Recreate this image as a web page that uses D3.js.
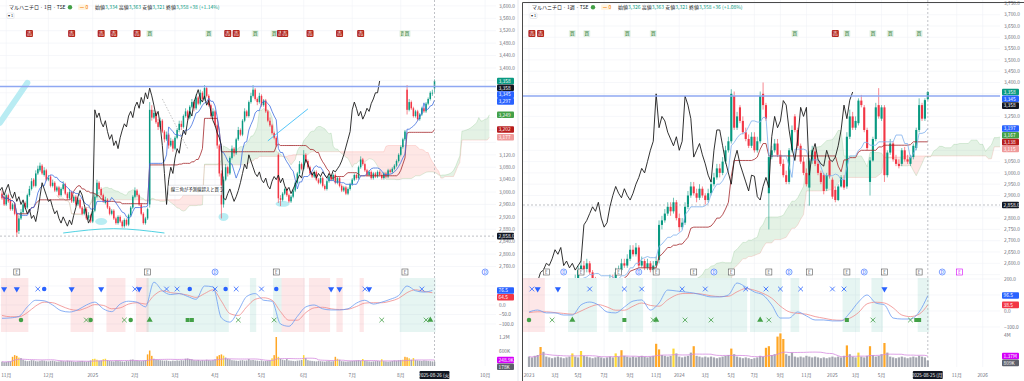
<!DOCTYPE html>
<html>
<head>
<meta charset="utf-8">
<script src="https://cdn.jsdelivr.net/npm/d3@7"></script>
<style>
  body { margin: 0; background: #fff; }
  svg { display: block; font-family: "Noto Sans CJK JP", "Noto Sans", sans-serif; }
</style>
</head>
<body>
<svg id="chart" width="1024" height="381"></svg>
<script>
// ---------- daily (left chart) ----------
const dailyOpen = [
  2995,2985,2960,2990,2975,2945,2960,2930,2875,2915, 2935,2965,2950,2990,3010,3040,3020,3060,3070,3085,
  3055,3070,3040,3050,3020,3030,3005,3015,2990,3010, 3025,2995,2980,3000,2970,2985,2960,2975,2950,2930,
  2945,2915,2925,2905,2940,2985,3030,3010,2990,2965, 2975,2950,2930,2940,2915,2900,2920,2905,2890,2910,
  2895,2925,2950,2985,3005,2990,2960,2930,2900,2915, 2960,3265,3240,3255,3225,3210,3230,3195,3170,3185,
  3150,3165,3140,3175,3200,3220,3210,3245,3260,3240, 3275,3290,3270,3305,3285,3320,3300,3335,3310,3280,
  3245,3260,3215,3150,3060,2960,3040,3080,3060,3110, 3140,3125,3170,3200,3185,3230,3260,3245,3290,3310,
  3330,3300,3290,3310,3280,3295,3260,3230,3215,3190, 3175,3120,2980,2975,2995,3010,2990,2970,2985,3005,
  3030,3060,3090,3075,3120,3100,3080,3060,3050,3065, 3040,3030,3045,3020,3010,3035,3050,3040,3055,3030,
  3045,3020,3005,3015,2995,3010,3025,3040,3055,3045, 3080,3105,3090,3070,3055,3065,3045,3060,3050,3065,
  3055,3045,3060,3050,3070,3065,3075,3085,3100,3120, 3145,3170,3330,3265,3290,3270,3245,3260,3235,3250,
  3270,3260,3285,3300,3320,3334
]
const dailyHigh = [
  3005,2990,2995,2995,2980,2965,2965,2935,2925,2945, 2970,2970,2995,3020,3045,3045,3070,3085,3095,3090,
  3080,3075,3055,3055,3040,3035,3020,3020,3015,3035, 3030,3000,3010,3005,2990,2990,2980,2980,2955,2950,
  2950,2935,2930,2945,2995,3040,3035,3015,2995,2985, 2980,2955,2945,2945,2920,2925,2925,2910,2915,2915,
  2930,2955,2990,3015,3010,2995,2965,2935,2920,2950, 3290,3280,3265,3260,3235,3240,3235,3200,3195,3190,
  3175,3170,3180,3205,3230,3230,3250,3270,3265,3280, 3300,3295,3315,3310,3330,3325,3345,3340,3315,3285,
  3270,3265,3220,3155,3070,3050,3090,3085,3115,3150, 3145,3175,3210,3205,3235,3270,3265,3295,3320,3345,
  3335,3305,3320,3315,3300,3300,3265,3240,3220,3195, 3180,3125,2990,3000,3015,3015,2995,2990,3010,3035,
  3065,3100,3095,3135,3125,3105,3085,3065,3070,3070, 3045,3050,3050,3025,3040,3055,3055,3060,3060,3050,
  3050,3025,3020,3020,3015,3030,3045,3060,3060,3085, 3115,3110,3095,3075,3070,3070,3065,3065,3070,3070,
  3060,3065,3065,3075,3075,3080,3090,3105,3125,3150, 3175,3200,3345,3300,3295,3275,3265,3265,3255,3275,
  3275,3290,3305,3325,3330,3363
]
const dailyLow = [
  2975,2955,2955,2965,2940,2940,2925,2855,2865,2910, 2930,2945,2945,2985,3005,3015,3015,3055,3065,3055,
  3050,3035,3035,3015,3015,3000,3000,2985,2985,3005, 2990,2975,2975,2965,2965,2955,2955,2945,2925,2925,
  2910,2910,2900,2900,2935,2980,3005,2985,2965,2960, 2945,2925,2925,2910,2895,2895,2900,2885,2885,2890,
  2890,2920,2945,2980,2985,2955,2925,2895,2895,2910, 2950,3230,3235,3220,3200,3205,3190,3160,3165,3140,
  3145,3130,3135,3170,3195,3200,3205,3240,3230,3235, 3270,3260,3265,3280,3280,3295,3295,3305,3275,3240,
  3240,3210,3140,3050,2915,2950,3035,3050,3055,3105, 3115,3120,3165,3180,3180,3225,3240,3240,3285,3305,
  3295,3280,3285,3275,3275,3255,3225,3210,3185,3170, 3145,2965,2955,2970,2990,2985,2965,2965,2980,3000,
  3025,3055,3070,3070,3095,3075,3055,3045,3045,3035, 3025,3025,3015,3005,3005,3030,3035,3035,3025,3025,
  3015,3000,3000,2990,2990,3005,3020,3035,3040,3040, 3075,3085,3065,3050,3050,3040,3040,3045,3045,3050,
  3040,3040,3045,3045,3060,3060,3070,3080,3095,3115, 3140,3165,3250,3260,3265,3240,3240,3230,3230,3245,
  3255,3255,3280,3295,3310,3321
]
const dailyClose = [
  2980,2960,2990,2970,2945,2960,2930,2870,2915,2935, 2960,2950,2990,3010,3035,3020,3060,3075,3085,3060,
  3070,3040,3045,3020,3030,3005,3015,2990,3010,3025, 2995,2980,3000,2970,2985,2960,2975,2950,2930,2945,
  2915,2925,2905,2940,2985,3030,3010,2990,2970,2975, 2950,2930,2940,2915,2900,2920,2905,2890,2910,2895,
  2925,2950,2985,3005,2990,2960,2930,2900,2915,2945, 3265,3240,3255,3225,3210,3230,3195,3170,3185,3150,
  3165,3140,3175,3200,3220,3210,3245,3260,3240,3275, 3290,3270,3305,3285,3320,3300,3335,3310,3280,3245,
  3260,3215,3150,3060,2960,3040,3080,3060,3110,3140, 3125,3170,3200,3185,3230,3260,3245,3290,3310,3330,
  3300,3290,3310,3280,3295,3260,3230,3215,3190,3175, 3150,2980,2975,2995,3010,2990,2970,2985,3005,3030,
  3060,3090,3075,3120,3100,3080,3060,3050,3065,3040, 3030,3045,3020,3010,3035,3050,3040,3055,3030,3045,
  3020,3005,3015,2995,3010,3025,3040,3055,3045,3080, 3105,3090,3070,3055,3065,3045,3060,3050,3065,3055,
  3045,3060,3050,3070,3065,3075,3085,3100,3120,3145, 3170,3195,3265,3290,3270,3245,3260,3235,3250,3270,
  3260,3285,3300,3320,3320,3358
]
const dailyVolume = [ // thousands of shares
  180,160,170,190,200,380,450,420,350,330, 260,220,200,210,240,230,200,190,210,230,
  220,200,190,210,220,200,180,190,210,200, 190,220,210,200,180,170,190,200,210,190,
  180,200,230,290,300,260,220,230,280,300, 240,210,200,190,220,210,200,190,180,210,
  200,260,270,220,230,210,200,220,240,480, 640,420,300,260,250,240,230,220,230,210,
  200,220,210,230,220,240,230,300,310,290, 280,240,230,250,220,240,230,260,240,230,
  250,280,400,450,480,430,350,300,280,240, 230,220,210,230,240,220,230,290,240,250,
  230,220,210,230,200,210,220,230,320,450, 1200,380,300,260,240,290,230,220,210,200,
  220,230,250,450,330,240,220,210,200,190, 210,200,190,180,200,210,190,200,380,300,
  260,200,190,180,190,200,210,220,230,240, 220,290,210,200,190,180,190,200,210,200,
  280,200,190,180,190,210,230,220,240,250, 260,380,360,320,260,330,240,230,220,210,
  230,220,210,200,190,178
]
const dailyTickIdx = [2, 22, 43, 63, 82, 101, 123, 143, 166, 189, 229]
const dailyTickLabels = ['11月', '12月', '2025', '2月', '3月', '4月', '5月', '6月', '7月', '8月', '10月']
const dailyPriceTicks = [2760, 2800, 2840, 2880, 2920, 2960, 3000, 3040, 3080, 3120, 3160, 3200, 3240,
  3280, 3320, 3360, 3400, 3440, 3480, 3520, 3560, 3600]
const dailyOscStep = 4
const dailyOscMain = [-70,-68,-60,-10,25,22,0,-30,-37,-25, 0,15,-20,-35,5,20,15,-10,120,75,
  55,60,45,30,100,95,-68,-90,-30,45, 60,25,20,-100,-112,-60,-10,0,-20,-26,
  -26,-20,10,25,5,15,30,50,100,75, 68,76.5]
const dailyOscSignal = [-55,-62,-62,-40,-5,15,12,-5,-22,-28, -15,2,-2,-20,-15,5,12,5,50,75,
  65,60,52,40,60,80,20,-45,-55,-10, 30,38,25,-35,-80,-80,-40,-15,-12,-20,
  -24,-22,-8,10,12,12,20,35,65,80, 72,64.5]
const dailyBandFrom = [0, 33, 50, 64, 69, 118, 129, 133, 146, 159, 170, 189]
const dailyBandTo = [12, 43, 58, 69, 107, 120, 132, 143, 155, 161, 171, 205]
const dailyBandKind = ['r', 'r', 'r', 'r', 'g', 'g', 'g', 'r', 'r', 'r', 'r', 'g']
const dailyTopIdx = [1, 7, 17, 20, 33, 47, 63, 65, 78, 83, 89, 101, 106, 111, 123, 130, 156, 160, 172, 174, 199]
const dailyTopSym = ['v', 'v', 'x', 'o', 'v', 'v', 'x', 'v', 'x', 'x', 'o', 'x', 'o', 'x', 'x', 'o', 'v', 'v', 'x', 'v', 'x']
const dailyBotIdx = [9, 40, 42, 58, 61, 70, 88, 90, 112, 129, 180, 201, 203]
const dailyBotSym = ['o', 'x', 'o', 'x', 'o', '^', 's', 's', 'x', 'x', 'x', 'x', '^']
const dailyEventIdx = [7, 69, 101, 130, 191, 229]
const dailyEventKind = ['E', 'E', 'D', 'E', 'E', 'D']
const dailySignalIdx = [13, 33, 47, 53, 64, 70, 98, 107, 111, 120, 129, 132, 134, 146, 160, 170, 190, 192]
const dailySignalKind = ['s', 's', 's', 's', 's', 'b', 'b', 's', 's', 'b', 'b', 's', 's', 's', 's', 's', 'b', 'b']

// ---------- weekly (right chart) ----------
const weeklyOpen = [
  2380,2400,2420,2410,2440,2460,2450,2430,2470,2480, 2460,2490,2470,2500,2490,2510,2500,2530,2570,2590,
  2575,2600,2560,2520,2500,2510,2480,2500,2490,2530, 2520,2560,2570,2600,2590,2620,2660,2640,2670,2590,
  2610,2580,2600,2570,2590,2615,2770,2790,2820,2850, 2830,2870,2800,2760,2780,2850,2900,2940,2910,2890,
  2930,2900,2880,2910,2950,2980,3020,3000,3050,3100, 3140,3340,3200,3290,3230,3180,3150,3120,3160,3100,
  3140,3350,3300,2910,3070,3100,3130,3080,3040,2990, 2960,3100,3250,3190,3120,3050,3000,2935,3055,3095,
  3040,3000,2990,2930,3055,2970,2925,2880,2940,2970, 2940,3160,3250,3200,3220,3320,3290,3190,2960,3055,
  3150,3300,3240,3290,2990,3090,3130,3060,3040,3040, 3100,3060,3040,3070,3110,3190,3300,3240,3326
]
const weeklyHigh = [
  2420,2440,2440,2460,2480,2480,2470,2490,2500,2490, 2510,2500,2520,2520,2530,2530,2550,2590,2610,2610,
  2620,2610,2570,2540,2530,2530,2520,2520,2550,2550, 2580,2590,2620,2620,2640,2680,2680,2690,2680,2630,
  2620,2620,2610,2610,2630,2790,2810,2840,2870,2870, 2890,2880,2820,2800,2870,2920,2960,2960,2930,2950,
  2940,2910,2930,2970,3000,3040,3040,3070,3120,3160, 3370,3360,3270,3300,3250,3200,3170,3180,3180,3160,
  3360,3400,3310,3090,3120,3150,3150,3100,3060,3010, 3110,3210,3260,3200,3130,3070,3020,3065,3120,3110,
  3060,3010,3000,3000,3070,2980,2940,2950,2990,2990, 3180,3280,3270,3250,3330,3345,3300,3200,3070,3160,
  3310,3375,3300,3300,3100,3150,3140,3080,3060,3110, 3115,3080,3080,3130,3200,3330,3310,3330,3363
]
const weeklyLow = [
  2370,2380,2390,2400,2430,2430,2420,2420,2460,2450, 2450,2460,2460,2480,2480,2490,2490,2520,2560,2560,
  2560,2550,2510,2490,2490,2470,2470,2480,2480,2510, 2510,2550,2560,2580,2580,2610,2630,2630,2580,2580,
  2570,2570,2560,2560,2580,2600,2750,2780,2810,2810, 2820,2790,2740,2750,2770,2840,2890,2900,2870,2880,
  2890,2860,2870,2900,2940,2970,2980,2990,3040,3090, 3130,3190,3190,3220,3170,3140,3110,3110,3090,3090,
  3130,3280,3230,2750,3060,3090,3070,3030,2980,2950, 2950,3090,3180,3110,3040,2990,2940,2855,3040,3030,
  2990,2950,2905,2920,2975,2885,2870,2875,2935,2925, 2930,3150,3190,3190,3210,3290,3180,3100,2900,3050,
  3140,3240,3230,2960,2980,3080,3050,3030,3020,3030, 3050,3040,3030,3060,3100,3180,3230,3230,3321
]
const weeklyClose = [
  2400,2420,2410,2440,2460,2450,2430,2470,2480,2460, 2490,2470,2500,2490,2510,2500,2530,2570,2590,2575,
  2600,2560,2520,2500,2510,2480,2500,2490,2530,2520, 2560,2570,2600,2590,2620,2660,2640,2670,2590,2610,
  2580,2600,2570,2590,2610,2770,2790,2820,2850,2830, 2870,2800,2760,2780,2850,2900,2940,2910,2890,2930,
  2900,2880,2910,2950,2980,3020,3000,3050,3100,3140, 3350,3200,3250,3230,3180,3150,3120,3160,3100,3140,
  3340,3300,3240,3070,3100,3130,3080,3040,2990,2960, 3100,3190,3190,3120,3050,3000,2950,3055,3100,3040,
  3000,2960,2920,2990,2985,2895,2880,2940,2980,2935, 3160,3250,3200,3230,3320,3300,3190,3110,3055,3150,
  3290,3250,3290,2990,3090,3130,3060,3040,3030,3100, 3060,3050,3070,3120,3190,3300,3240,3322,3358
]
const weeklyVolume = [ // thousands of shares
  1300,1200,1400,1500,2500,1900,1300,1200,1100,1200, 1300,1200,1100,1200,1300,1700,1300,1200,2000,1400,
  1300,1200,1100,1200,1300,1200,1100,1200,1300,1200, 1700,1300,2100,1400,1300,1200,1300,1200,1300,1400,
  1300,1200,1300,1400,2900,2200,1500,1400,1300,1400, 2300,1700,1300,1200,1300,1400,1800,2600,1400,1300,
  1200,1300,1200,1300,1200,1100,1200,1300,1400,1500, 2300,1600,1300,1200,1100,1200,1100,1000,1100,1200,
  1400,1300,2400,2600,1500,1600,3800,4200,3500,1600, 1400,1800,1300,1200,1300,1200,1400,1300,1200,1300,
  1200,1100,1200,1100,1200,1300,1200,1300,1200,1400, 2700,1600,1300,1200,1800,1300,1200,1400,2600,1500,
  1300,1400,1600,3000,1800,1300,1200,1100,1200,1300, 1200,1100,1200,1300,1200,1400,1300,1200,809
]
const weeklyTickIdx = [0, 9, 17, 26, 35, 44, 52, 61, 70, 78, 87, 96, 105, 113, 122, 131, 148, 157]
const weeklyTickLabels = ['2023', '3月', '5月', '7月', '9月', '11月', '2024', '3月', '5月', '7月', '9月', '11月',
  '2025', '3月', '5月', '7月', '11月', '2026']
const weeklyPriceTicks = [2550, 2600, 2650, 2700, 2750, 2800, 2850, 2900, 2950, 3000, 3050, 3100, 3150,
  3200, 3250, 3300, 3350, 3400, 3450, 3500, 3550, 3600, 3650, 3700, 3750]
const weeklyOscStep = 3
const weeklyOscMain = [-6,6,-12,-12,-25,-25,38,56,38,-6, -12,25,62,69,6,50,131,125,119,112,
  100,88,88,100,175,150,119,100,38,-44, -44,-6,-31,-56,-56,-62,-62,-12,56,100,
  50,38,-44,-50,-50,-6,96.5]
const weeklyOscSignal = [-10,-5,-5,-10,-15,-20,0,25,40,25, 5,5,30,50,35,30,70,100,110,110,
  105,95,90,92,120,140,130,110,80,30, -5,-15,-20,-35,-45,-55,-58,-45,-10,45,
  55,50,20,-25,-35,-20,38.5]
const weeklyBandFrom = [-2, 14, 28, 34, 43, 77, 91, 109, 119, 135]
const weeklyBandTo = [5, 23, 32, 39, 75, 87, 93, 114, 122, 138]
const weeklyBandKind = ['r', 'g', 'g', 'g', 'g', 'g', 'g', 'g', 'g', 'g']
const weeklyTopIdx = [1, 3, 10, 21, 33, 39, 53, 61, 75, 82, 87, 94, 105, 109, 123]
const weeklyTopSym = ['x', 'v', 'v', 'x', 'x', 'x', 'x', 'x', 'x', 'x', 'x', 'x', 'x', 'x', 'v']
const weeklyBotIdx = [0, 8, 15, 33, 43, 44, 54, 63, 80, 83, 110, 119, 132, 134, 135]
const weeklyBotSym = ['o', 'x', '^', 's', 'x', '^', 'x', 'x', '^', 'x', 's', 'x', 'x', 's', 's']
const weeklyEventIdx = [6, 12, 18, 31, 38, 44, 57, 64, 70, 83, 90, 97, 110, 116, 123, 135, 143, 149]
const weeklyEventKind = ['E', 'D', 'E', 'E', 'D', 'E', 'E', 'D', 'E', 'E', 'D', 'E', 'E', 'D', 'E', 'E', 'D', 'P']
const weeklySignalIdx = [1, 4, 15, 20, 34, 43, 92, 106, 110, 119, 125, 135]
const weeklySignalKind = ['s', 's', 'b', 'b', 'b', 'b', 'b', 's', 'b', 'b', 'b', 'b']

const hLinePrice = 3340
const crossPrice = 2858

const UP = '#089981', DOWN = '#f23645'
const svg = d3.select('#chart')
const defs = svg.append('defs')
const fmtP = d3.format(',.1f')

function donchianMid(high, low, len) {
  return high.map((h, i) => {
    const s = Math.max(0, i - len + 1)
    return (d3.max(high.slice(s, i + 1)) + d3.min(low.slice(s, i + 1))) / 2
  })
}
function sma(arr, len) {
  return arr.map((v, i) => d3.mean(arr.slice(Math.max(0, i - len + 1), i + 1)))
}
// split the cloud into pieces of one colour, cutting where span A crosses span B
function cloudSegments(idx, a, b) {
  const segs = []
  let cur = null
  for (let k = 0; k < idx.length; k++) {
    const up = a[k] >= b[k]
    if (!cur) { cur = { up, pts: [] }; segs.push(cur) }
    else if (cur.up !== up) {
      const d0 = a[k - 1] - b[k - 1], d1 = a[k] - b[k]
      const t = d0 / (d0 - d1)
      const p = { i: idx[k - 1] + t * (idx[k] - idx[k - 1]), a: a[k - 1] + t * (a[k] - a[k - 1]) }
      p.b = p.a
      cur.pts.push(p)
      cur = { up, pts: [p] }
      segs.push(cur)
    }
    cur.pts.push({ i: idx[k], a: a[k], b: b[k] })
  }
  return segs
}
function fmtVol(v) { // v in thousands
  return v >= 1000 ? d3.format('.3~r')(v / 1000) + 'M' : d3.format('.4~r')(v) + 'K'
}
function tag(g, x, y, text, bg, fg) {
  const t = g.append('g')
  t.append('rect').attr('x', x).attr('y', y - 3.3).attr('width', 17).attr('height', 6.6).attr('rx', 1).attr('fill', bg)
  t.append('text').attr('x', x + 1.6).attr('y', y + 1.8).attr('font-size', 4.8).attr('fill', fg || '#fff').text(text)
}
function stackTags(list, minGap) {
  list.sort((a, b) => a.y - b.y)
  for (let k = 1; k < list.length; k++) if (list[k].y < list[k - 1].y + minGap) list[k].y = list[k - 1].y + minGap
  return list
}
// keep only the axis labels that no coloured tag hides
function freeOf(tags, yy) { return tags.every(t => Math.abs(t.y - yy) > 5.5) }

function drawPanel(c) {
  const n = c.close.length
  const x = d3.scaleLinear().domain([0, n - 1]).range([c.firstX, c.lastX])
  const y = d3.scaleLinear().domain(c.priceDomain).range([c.priceBottom, 0])
  const yOsc = d3.scaleLinear().domain(c.oscDomain).range(c.oscRange)
  const yVol = d3.scaleLinear().domain([0, c.volMax]).range([c.volBase, c.volTop])
  const g = svg.append('g')

  defs.append('clipPath').attr('id', c.id + 'P').append('rect')
    .attr('x', c.left).attr('y', 0).attr('width', c.right - c.left).attr('height', c.priceBottom)
  defs.append('clipPath').attr('id', c.id + 'A').append('rect')
    .attr('x', c.left).attr('y', 0).attr('width', c.right - c.left).attr('height', 381)

  // grid
  const grid = g.append('g').attr('stroke', '#f0f2f6').attr('stroke-width', 0.6)
  grid.selectAll('.vg').data(c.tickIdx).join('line').attr('class', 'vg')
    .attr('x1', d => x(d)).attr('x2', d => x(d)).attr('y1', 0).attr('y2', c.volBase)
  grid.selectAll('.hg').data(c.priceTicks).join('line').attr('class', 'hg')
    .attr('x1', c.left).attr('x2', c.right).attr('y1', d => y(d)).attr('y2', d => y(d))
  grid.selectAll('.og').data(c.oscTicks).join('line').attr('class', 'og')
    .attr('x1', c.left).attr('x2', c.right).attr('y1', d => yOsc(d)).attr('y2', d => yOsc(d))

  // ---- price pane ----
  const pg = g.append('g').attr('clip-path', `url(#${c.id}P)`)
  const tenkan = donchianMid(c.high, c.low, 9)
  const kijun = donchianMid(c.high, c.low, 26)
  const spanB = donchianMid(c.high, c.low, 52)
  const spanA = tenkan.map((t, i) => (t + kijun[i]) / 2)
  const cloudIdx = d3.range(n).map(i => i + 26)
  const segs = cloudSegments(cloudIdx, spanA, spanB)
  const area = d3.area().x(d => x(d.i)).y0(d => y(d.a)).y1(d => y(d.b))
  pg.selectAll('.cloud').data(segs).join('path').attr('class', 'cloud')
    .attr('d', d => area(d.pts)).attr('fill', d => d.up ? 'rgba(67,160,71,0.14)' : 'rgba(244,67,54,0.13)')
  const line = d3.line().x(d => x(d[0])).y(d => y(d[1]))
  pg.append('path').attr('d', line(spanA.map((v, i) => [i + 26, v])))
    .attr('fill', 'none').attr('stroke', 'rgba(67,160,71,0.35)').attr('stroke-width', 0.5)
  pg.append('path').attr('d', line(spanB.map((v, i) => [i + 26, v])))
    .attr('fill', 'none').attr('stroke', 'rgba(244,67,54,0.3)').attr('stroke-width', 0.5)

  if (c.extraBehind) c.extraBehind(pg, x, y)

  const bars = d3.range(n).map(i => ({ i, o: c.open[i], h: c.high[i], l: c.low[i], c: c.close[i] }))
  const cg = pg.append('g')
  cg.selectAll('line').data(bars).join('line')
    .attr('x1', d => x(d.i)).attr('x2', d => x(d.i)).attr('y1', d => y(d.h)).attr('y2', d => y(d.l))
    .attr('stroke', d => d.c >= d.o ? UP : DOWN).attr('stroke-width', 0.6)
  cg.selectAll('rect').data(bars).join('rect')
    .attr('x', d => x(d.i) - c.bodyW / 2).attr('width', c.bodyW)
    .attr('y', d => y(Math.max(d.o, d.c))).attr('height', d => Math.max(0.7, Math.abs(y(d.o) - y(d.c))))
    .attr('fill', d => d.c >= d.o ? UP : DOWN)

  pg.append('path').attr('d', line(kijun.map((v, i) => [i, v])))
    .attr('fill', 'none').attr('stroke', '#a3262a').attr('stroke-width', 0.8)
  pg.append('path').attr('d', line(tenkan.map((v, i) => [i, v])))
    .attr('fill', 'none').attr('stroke', c.tenkanColor).attr('stroke-width', 0.8)
  pg.append('path').attr('d', line(c.close.map((v, i) => [i - 26, v])))
    .attr('fill', 'none').attr('stroke', '#1b1b1b').attr('stroke-width', 0.9)

  // horizontal drawn line
  pg.append('line').attr('x1', c.left).attr('x2', c.right).attr('y1', y(hLinePrice)).attr('y2', y(hLinePrice))
    .attr('stroke', '#8fa8f2').attr('stroke-width', 1.4)

  if (c.extraFront) c.extraFront(pg, x, y)

  // signals row
  const sg = g.append('g').attr('clip-path', `url(#${c.id}A)`)
  c.signalIdx.forEach((si, k) => {
    const cx = x(si), kind = c.signalKind[k]
    if (kind === 's') {
      sg.append('rect').attr('x', cx - 3.5).attr('y', 30).attr('width', 7).attr('height', 7).attr('rx', 1).attr('fill', '#b3261e')
      sg.append('text').attr('x', cx).attr('y', 35.3).attr('text-anchor', 'middle').attr('font-size', 5).attr('fill', '#fff').text('売')
    } else {
      sg.append('rect').attr('x', cx - 3.5).attr('y', 30).attr('width', 7).attr('height', 7).attr('rx', 1).attr('fill', '#e6f2e8')
      sg.append('text').attr('x', cx).attr('y', 35.3).attr('text-anchor', 'middle').attr('font-size', 5).attr('fill', '#2e7d32').text('買')
    }
  })

  // events (earnings / dividends) at the foot of the price pane
  c.eventIdx.forEach((ei, k) => {
    const cx = x(ei), kind = c.eventKind[k], ey = c.priceBottom - 6
    if (kind === 'D') {
      sg.append('circle').attr('cx', cx).attr('cy', ey).attr('r', 3).attr('fill', '#fff').attr('stroke', '#2962ff').attr('stroke-width', 0.6)
      sg.append('text').attr('x', cx).attr('y', ey + 1.7).attr('text-anchor', 'middle').attr('font-size', 4.3).attr('fill', '#2962ff').text('D')
    } else {
      const col = kind === 'P' ? '#d500f9' : '#555'
      sg.append('rect').attr('x', cx - 3).attr('y', ey - 3).attr('width', 6).attr('height', 6).attr('fill', '#fff').attr('stroke', col).attr('stroke-width', 0.6)
      sg.append('text').attr('x', cx).attr('y', ey + 1.7).attr('text-anchor', 'middle').attr('font-size', 4.3).attr('fill', col).text('E')
    }
  })

  // ---- oscillator pane ----
  const og = g.append('g').attr('clip-path', `url(#${c.id}A)`)
  c.bandFrom.forEach((b0, k) => {
    og.append('rect').attr('x', x(b0 - 0.5)).attr('width', x(c.bandTo[k] + 0.5) - x(b0 - 0.5))
      .attr('y', c.oscTop).attr('height', c.oscBottom - c.oscTop)
      .attr('fill', c.bandKind[k] === 'r' ? 'rgba(242,54,69,0.12)' : 'rgba(8,153,129,0.10)')
  })
  const oline = d3.line().x(d => x(d[0])).y(d => yOsc(d[1])).curve(d3.curveMonotoneX)
  og.append('path').attr('d', oline(c.oscSignal.map((v, k) => [k * c.oscStep, v])))
    .attr('fill', 'none').attr('stroke', '#f08a8a').attr('stroke-width', 0.8)
  og.append('path').attr('d', oline(c.oscMain.map((v, k) => [k * c.oscStep, v])))
    .attr('fill', 'none').attr('stroke', '#6b9cf2').attr('stroke-width', 0.8)
  function marker(sel, cx, cy, sym, col) {
    if (sym === 'x') {
      sel.append('path').attr('d', d3.symbol(d3.symbolTimes, 16)()).attr('transform', `translate(${cx},${cy})`)
        .attr('fill', 'none').attr('stroke', col).attr('stroke-width', 0.8)
      return
    }
    const type = sym === 'o' ? d3.symbolCircle : sym === 's' ? d3.symbolSquare : d3.symbolTriangle
    sel.append('path').attr('d', d3.symbol(type, 16)())
      .attr('transform', `translate(${cx},${cy})` + (sym === 'v' ? ' rotate(180)' : ''))
      .attr('fill', col)
  }
  c.topIdx.forEach((ti, k) => marker(og, x(ti), c.oscTop + 11, c.topSym[k], '#2962ff'))
  c.botIdx.forEach((bi, k) => marker(og, x(bi), c.oscBottom - 12, c.botSym[k], '#43a047'))

  // ---- volume pane ----
  const ma = sma(c.volume, 20)
  const vg = g.append('g').attr('clip-path', `url(#${c.id}A)`)
  vg.selectAll('rect').data(c.volume).join('rect')
    .attr('x', (d, i) => x(i) - c.volW / 2).attr('width', c.volW)
    .attr('y', d => yVol(d)).attr('height', d => c.volBase - yVol(d))
    .attr('fill', (d, i) => d > ma[i] * 1.5 ? '#ffa726' : d > ma[i] * 1.2 ? '#fdd835' : '#a4a7b0')
  vg.append('path').attr('d', d3.line().x((d, i) => x(i)).y(d => yVol(d))(ma))
    .attr('fill', 'none').attr('stroke', '#d58be0').attr('stroke-width', 0.8)

  // ---- crosshair ----
  const lastX = x(n - 1)
  g.append('line').attr('x1', lastX).attr('x2', lastX).attr('y1', 0).attr('y2', c.volBase)
    .attr('stroke', '#9598a1').attr('stroke-width', 0.6).attr('stroke-dasharray', '2,2')
  g.append('line').attr('x1', c.left).attr('x2', c.right).attr('y1', y(crossPrice)).attr('y2', y(crossPrice))
    .attr('stroke', '#9598a1').attr('stroke-width', 0.6).attr('stroke-dasharray', '2,2')

  // ---- tags on the price scale ----
  const last = c.close[n - 1]
  const priceTags = stackTags([
    { y: y(last), t: d3.format(',')(last), bg: UP },
    { y: y(last) + 5, t: d3.format(',')(last), bg: '#131722' },
    { y: y(hLinePrice), t: d3.format(',')(hLinePrice + 5), bg: '#2962ff' },
    { y: y(tenkan[n - 1]), t: d3.format(',.0f')(tenkan[n - 1]), bg: '#2962ff' },
    { y: y(spanA[n - 1]), t: d3.format(',.0f')(spanA[n - 1]), bg: '#43a047' },
    { y: y(kijun[n - 1]), t: d3.format(',.0f')(kijun[n - 1]), bg: '#b71c1c' },
    { y: y(spanB[n - 1]), t: d3.format(',.0f')(spanB[n - 1]), bg: '#ef9a9a' }
  ], 6.8)
  priceTags.push({ y: y(crossPrice), t: fmtP(crossPrice), bg: '#131722' })
  const oscTags = stackTags([
    { y: yOsc(c.oscMain[c.oscMain.length - 1]), t: fmtP(c.oscMain[c.oscMain.length - 1]), bg: '#2962ff' },
    { y: yOsc(c.oscSignal[c.oscSignal.length - 1]), t: fmtP(c.oscSignal[c.oscSignal.length - 1]), bg: '#f23645' }
  ], 6.8)
  const volTags = stackTags([
    { y: yVol(ma[n - 1]), t: fmtVol(ma[n - 1]), bg: '#d500f9' },
    { y: yVol(c.volume[n - 1]), t: fmtVol(c.volume[n - 1]), bg: '#5d606b' }
  ], 6.8)
  const allTags = priceTags.concat(oscTags, volTags)

  // ---- right axis labels (only those inside their own pane) ----
  const ax = g.append('g').attr('font-size', 4.8).attr('fill', '#6a6d78')
  ax.selectAll('.pt').data(c.priceTicks.filter(d => y(d) < c.priceBottom - 4 && freeOf(allTags, y(d)))).join('text').attr('class', 'pt')
    .attr('x', c.axisX).attr('y', d => y(d) + 1.7).text(d => fmtP(d))
  ax.selectAll('.ot').data(c.oscTicks.filter(d => freeOf(allTags, yOsc(d)))).join('text').attr('class', 'ot')
    .attr('x', c.axisX).attr('y', d => yOsc(d) + 1.7).text(d => fmtP(d))
  ax.selectAll('.vt').data(c.volTicks.filter(d => freeOf(allTags, yVol(d)))).join('text').attr('class', 'vt')
    .attr('x', c.axisX).attr('y', d => yVol(d) + 1.7).text(d => d === 0 ? '0' : fmtVol(d))
  allTags.forEach(p => tag(g, c.axisX - 2, p.y, p.t, p.bg))

  // ---- time axis ----
  const tx = g.append('g').attr('font-size', 4.8).attr('fill', '#6a6d78').attr('text-anchor', 'middle')
  tx.selectAll('text').data(c.tickIdx.filter(d => Math.abs(x(d) - lastX) > 24)).join('text')
    .attr('x', d => x(d)).attr('y', 377).text(d => c.tickLabels[c.tickIdx.indexOf(d)])
  g.append('rect').attr('x', lastX - 15).attr('y', 371).attr('width', 30).attr('height', 8).attr('rx', 1).attr('fill', '#131722')
  g.append('text').attr('x', lastX).attr('y', 376.8).attr('text-anchor', 'middle').attr('font-size', 4.6)
    .attr('fill', '#fff').text(c.dateLabel)

  // ---- header ----
  const hd = g.append('g').attr('font-size', 5)
  hd.append('text').attr('x', c.left + 9).attr('y', 9).attr('fill', '#131722').text(c.title)
  hd.append('circle').attr('cx', c.left + 70).attr('cy', 7.3).attr('r', 2.2).attr('fill', '#43a047')
  hd.append('rect').attr('x', c.left + 78).attr('y', 4.5).attr('width', 10).attr('height', 5.5).attr('rx', 1).attr('fill', '#fff3e0')
  hd.append('text').attr('x', c.left + 79.5).attr('y', 9).attr('fill', '#f57c00').text('ー 0')
  const o = hd.append('text').attr('x', c.left + 95).attr('y', 9)
  const parts = [['始値', c.open[n - 1]], ['高値', c.high[n - 1]], ['安値', c.low[n - 1]], ['終値', last]]
  parts.forEach(([k, v]) => {
    o.append('tspan').attr('fill', '#131722').text(k)
    o.append('tspan').attr('fill', UP).text(d3.format(',')(v) + ' ')
  })
  const chg = last - c.prevClose
  o.append('tspan').attr('fill', UP).text(`+${chg} (+${d3.format('.2f')(chg / c.prevClose * 100)}%)`)
  hd.append('rect').attr('x', c.left + 7).attr('y', 13).attr('width', 7).attr('height', 5.5).attr('rx', 1)
    .attr('fill', '#fff').attr('stroke', '#d1d4dc').attr('stroke-width', 0.5)
  hd.append('text').attr('x', c.left + 8.2).attr('y', 17.3).attr('font-size', 3.8).attr('fill', '#131722').text('▾ 1')

  return { x, y }
}

// left chart: drawings made by hand on the daily chart
drawPanel({
  id: 'L', left: 0, right: 496, axisX: 499, firstX: 2, lastX: 434.5, priceBottom: 278,
  priceDomain: [2723, 3619], priceTicks: dailyPriceTicks,
  oscDomain: [-100, 100], oscRange: [324, 286], oscTicks: [100, 50, 0, -50, -100], oscTop: 278, oscBottom: 332,
  volMax: 1200, volBase: 366, volTop: 337, volTicks: [600, 1200],
  open: dailyOpen, high: dailyHigh, low: dailyLow, close: dailyClose, volume: dailyVolume,
  prevClose: 3320, bodyW: 1.5, volW: 1.5, tenkanColor: '#3f6fe0',
  tickIdx: dailyTickIdx, tickLabels: dailyTickLabels,
  oscMain: dailyOscMain, oscSignal: dailyOscSignal, oscStep: dailyOscStep,
  bandFrom: dailyBandFrom, bandTo: dailyBandTo, bandKind: dailyBandKind,
  topIdx: dailyTopIdx, topSym: dailyTopSym, botIdx: dailyBotIdx, botSym: dailyBotSym,
  eventIdx: dailyEventIdx, eventKind: dailyEventKind,
  signalIdx: dailySignalIdx, signalKind: dailySignalKind,
  title: 'マルハニチロ · 1日 · TSE', dateLabel: '2025-08-26 (火)',
  extraBehind: (pg, x, y) => {
    pg.append('line').attr('x1', x(-1)).attr('y1', y(3223)).attr('x2', x(12)).attr('y2', y(3352))
      .attr('stroke', '#b9ecf3').attr('stroke-width', 6).attr('stroke-linecap', 'round')
    const ell = [[47, 2905, 6, 3.5], [105, 2920, 5, 4], [133, 2962, 7, 3]]
    ell.forEach(e => pg.append('ellipse').attr('cx', x(e[0])).attr('cy', y(e[1])).attr('rx', e[2]).attr('ry', e[3])
      .attr('fill', 'rgba(128,222,234,0.55)'))
  },
  extraFront: (pg, x, y) => {
    pg.append('path').attr('d', d3.line().x(d => x(d[0])).y(d => y(d[1])).curve(d3.curveNatural)([[29, 2868], [53, 2882], [77, 2868]]))
      .attr('fill', 'none').attr('stroke', '#26c6da').attr('stroke-width', 0.8)
    pg.append('line').attr('x1', x(126)).attr('y1', y(3165)).attr('x2', x(145)).attr('y2', y(3268))
      .attr('stroke', '#29b6f6').attr('stroke-width', 0.8)
    pg.append('line').attr('x1', x(76)).attr('y1', y(3300)).attr('x2', x(88)).attr('y2', y(3140))
      .attr('stroke', '#9e9e9e').attr('stroke-width', 0.6).attr('stroke-dasharray', '1.5,1.5')
    const bx = x(79), by = y(3022)
    pg.append('rect').attr('x', bx).attr('y', by).attr('width', x(104) - bx).attr('height', y(2990) - by)
      .attr('fill', '#fff').attr('stroke', '#c9ccd4').attr('stroke-width', 0.5).attr('rx', 1)
    pg.append('text').attr('x', bx + 2).attr('y', by + 6.2).attr('font-size', 4.4).attr('fill', '#131722').text('線三角が予測線超えと買う')
  }
})

// right chart
drawPanel({
  id: 'R', left: 523, right: 1000, axisX: 1004, firstX: 529, lastX: 927.8, priceBottom: 278,
  priceDomain: [2535, 3765], priceTicks: weeklyPriceTicks,
  oscDomain: [-200, 200], oscRange: [343, 279], oscTicks: [200, 100, 0, -100], oscTop: 278, oscBottom: 332,
  volMax: 4000, volBase: 367, volTop: 335, volTicks: [0, 2000, 4000],
  open: weeklyOpen, high: weeklyHigh, low: weeklyLow, close: weeklyClose, volume: weeklyVolume,
  prevClose: 3322, bodyW: 2.1, volW: 2.2, tenkanColor: '#7fb0ee',
  tickIdx: weeklyTickIdx, tickLabels: weeklyTickLabels,
  oscMain: weeklyOscMain, oscSignal: weeklyOscSignal, oscStep: weeklyOscStep,
  bandFrom: weeklyBandFrom, bandTo: weeklyBandTo, bandKind: weeklyBandKind,
  topIdx: weeklyTopIdx, topSym: weeklyTopSym, botIdx: weeklyBotIdx, botSym: weeklyBotSym,
  eventIdx: weeklyEventIdx, eventKind: weeklyEventKind,
  signalIdx: weeklySignalIdx, signalKind: weeklySignalKind,
  title: 'マルハニチロ · 1週 · TSE', dateLabel: '2025-08-25 (月)'
})

// frame of the active (right) chart and the divider
svg.append('line').attr('x1', 518).attr('x2', 518).attr('y1', 0).attr('y2', 381).attr('stroke', '#e0e3eb').attr('stroke-width', 0.8)
svg.append('path').attr('d', 'M522.5,381 V2.5 H1024').attr('fill', 'none').attr('stroke', '#4a4a4a').attr('stroke-width', 1)
</script>
</body>
</html>
